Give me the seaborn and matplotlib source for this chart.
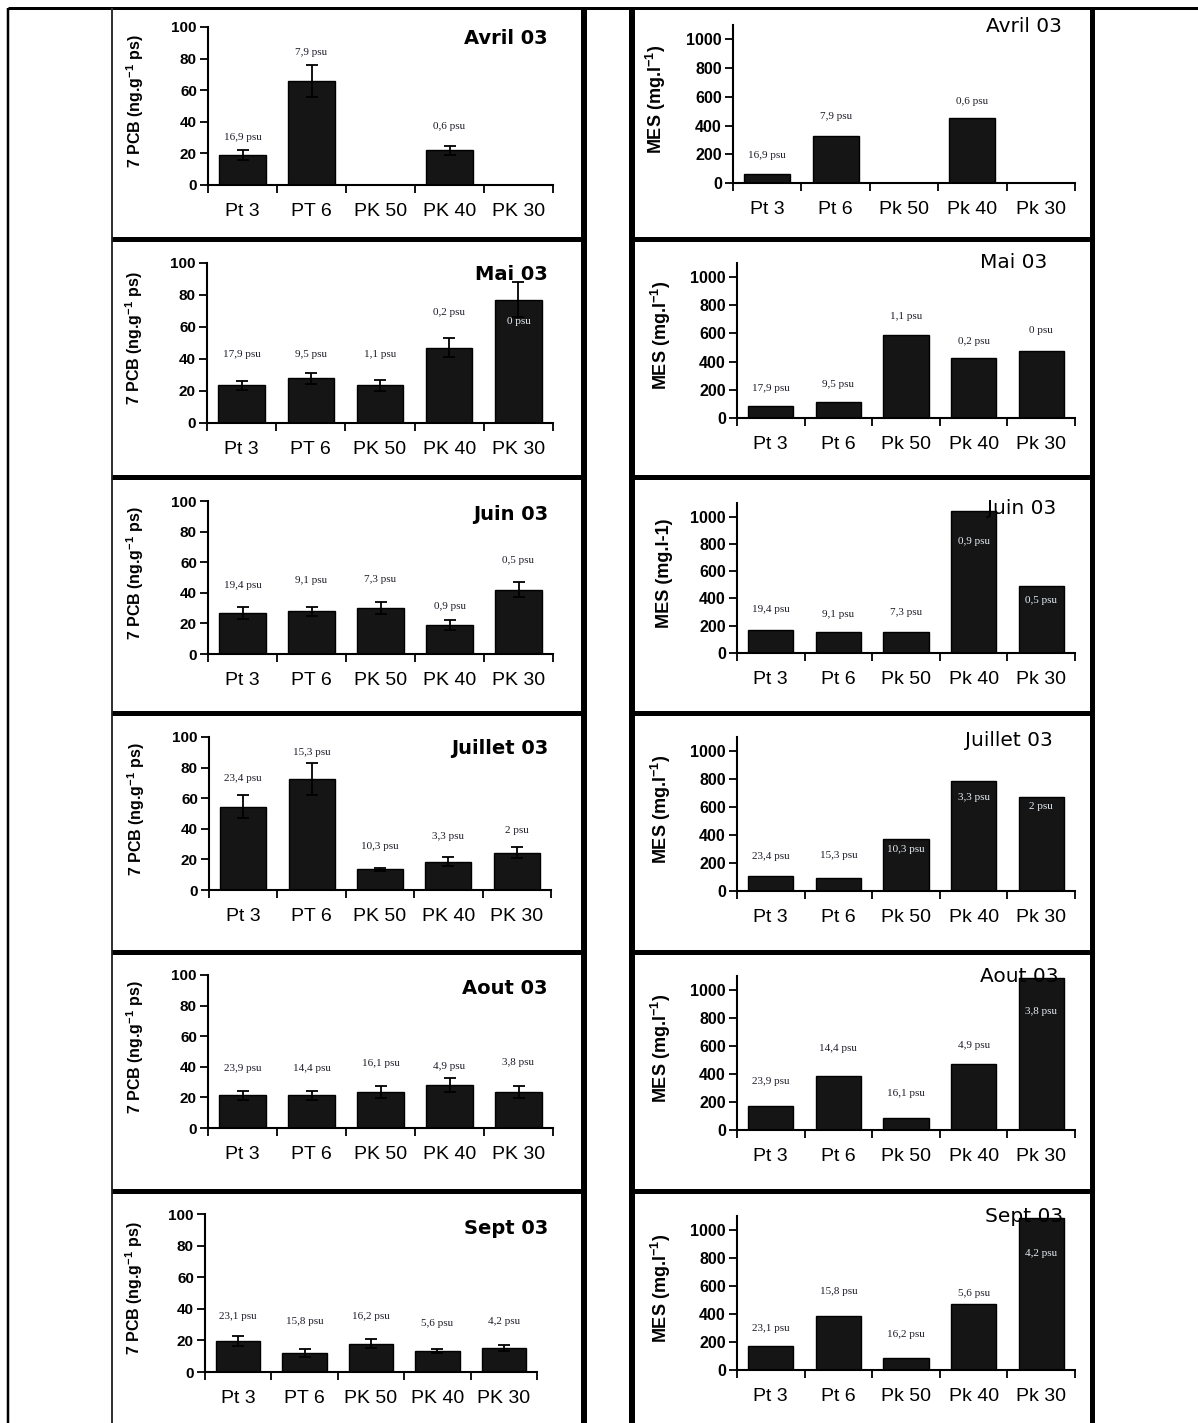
import numpy as np
import pandas as pd
import matplotlib
matplotlib.use("Agg")
import matplotlib.pyplot as plt
import seaborn as sns

sns.set_style("ticks")
plt.rcParams["font.family"] = ["Liberation Sans", "DejaVu Sans"]
plt.rcParams["mathtext.fontset"] = "custom"
plt.rcParams["mathtext.rm"] = "Liberation Sans:bold"
plt.rcParams["mathtext.default"] = "rm"
for key in ["text.color", "axes.labelcolor", "xtick.color", "ytick.color",
            "xtick.labelcolor", "ytick.labelcolor"]:
    plt.rcParams[key] = "black"

nan = np.nan

# ---- data -------------------------------------------------------------
months = ["Avril 03", "Mai 03", "Juin 03", "Juillet 03", "Aout 03", "Sept 03"]
sites_pcb = ["Pt 3", "PT 6", "PK 50", "PK 40", "PK 30"]
sites_mes = ["Pt 3", "Pt 6", "Pk 50", "Pk 40", "Pk 30"]

psu_avril = ["16,9 psu", "7,9 psu", "", "0,6 psu", ""]
psu_mai = ["17,9 psu", "9,5 psu", "1,1 psu", "0,2 psu", "0 psu"]
psu_juin = ["19,4 psu", "9,1 psu", "7,3 psu", "0,9 psu", "0,5 psu"]
psu_juillet = ["23,4 psu", "15,3 psu", "10,3 psu", "3,3 psu", "2 psu"]
psu_aout = ["23,9 psu", "14,4 psu", "16,1 psu", "4,9 psu", "3,8 psu"]
psu_sept = ["23,1 psu", "15,8 psu", "16,2 psu", "5,6 psu", "4,2 psu"]

# 7 PCB (ng/g dry weight), mean and error
pcb_avril = [19, 66, nan, 22, nan]
pcb_mai = [23.5, 28, 23.5, 47, 77]
pcb_juin = [27, 28, 30, 19, 42]
pcb_juillet = [54.5, 72.5, 13.5, 18.5, 24.5]
pcb_aout = [21.5, 21.5, 23.5, 28, 23.5]
pcb_sept = [19.5, 12, 18, 13.5, 15]

err_avril = [3, 10, nan, 3, nan]
err_mai = [3, 3.5, 3.5, 6, 11]
err_juin = [4, 3, 4, 3, 5]
err_juillet = [7.5, 10.5, 1.2, 3, 3.5]
err_aout = [3, 3, 4, 4.5, 4]
err_sept = [3, 2.5, 2.8, 1.2, 2]

# MES (mg/l)
mes_avril = [65, 326, nan, 456, nan]
mes_mai = [87, 117, 590, 429, 478]
mes_juin = [171, 157, 157, 1043, 494]
mes_juillet = [107, 93, 371, 786, 671]
mes_aout = [170, 386, 84, 472, 1084]
mes_sept = [170, 388, 84, 471, 1089]

# heights of the salinity labels, in data units of each panel
pcb_lab_avril = [30, 84, nan, 37, nan]
pcb_lab_mai = [43, 43, 43, 69, 63.5]
pcb_lab_juin = [45, 48, 49, 31, 61]
pcb_lab_juillet = [73, 90, 28.7, 34.8, 39]
pcb_lab_aout = [39, 39, 42, 40, 43]
pcb_lab_sept = [35, 32, 35, 31, 32]

mes_lab_avril = [193, 460, nan, 565, nan]
mes_lab_mai = [211, 241, 719, 543, 620]
mes_lab_juin = [318, 284, 296, 819, 386]
mes_lab_juillet = [243, 250, 293, 671, 607]
mes_lab_aout = [348, 583, 264, 600, 844]
mes_lab_sept = [299, 562, 251, 545, 833]

psu = [psu_avril, psu_mai, psu_juin, psu_juillet, psu_aout, psu_sept]
pcb = [pcb_avril, pcb_mai, pcb_juin, pcb_juillet, pcb_aout, pcb_sept]
pcb_err = [err_avril, err_mai, err_juin, err_juillet, err_aout, err_sept]
mes = [mes_avril, mes_mai, mes_juin, mes_juillet, mes_aout, mes_sept]
pcb_lab = [pcb_lab_avril, pcb_lab_mai, pcb_lab_juin, pcb_lab_juillet,
           pcb_lab_aout, pcb_lab_sept]
mes_lab = [mes_lab_avril, mes_lab_mai, mes_lab_juin, mes_lab_juillet,
           mes_lab_aout, mes_lab_sept]
mes_ylabels = ["MES (mg.l$^{-1}$)", "MES (mg.l$^{-1}$)", "MES (mg.l-1)",
               "MES (mg.l$^{-1}$)", "MES (mg.l$^{-1}$)", "MES (mg.l$^{-1}$)"]

# ---- layout (pixels) ----------------------------------------------------
W, H = 1198, 1423
fig = plt.figure(figsize=(W / 100, H / 100), dpi=100)
fig.patch.set_facecolor("white")

# (x_left, x_right, y_top_of_range, y_zero)
left_boxes = [(208, 553, 27, 185), (207, 553, 263, 423), (208, 553, 501, 654),
              (209, 551, 737, 890), (208, 553, 975, 1128), (205, 537, 1214, 1372)]
right_boxes = [(733, 1075, 25, 183), (737, 1075, 263, 418), (737, 1075, 503, 653),
               (737, 1075, 737, 891), (737, 1075, 976, 1130), (737, 1075, 1216, 1370)]
left_titles = [(548, 38), (548, 274), (548, 514), (548, 749), (548, 988), (548, 1228)]
right_titles = [(1062, 27), (1047, 263), (1056, 509), (1053, 741), (1058, 976), (1063, 1216)]


def rect(b):
    x0, x1, yt, yb = b
    return [x0 / W, 1 - yb / H, (x1 - x0) / W, (yb - yt) / H]


# table rules drawn on a full-figure background axes
bg = fig.add_axes([0, 0, 1, 1], zorder=-5)
bg.set_xlim(0, W)
bg.set_ylim(H, 0)
bg.axis("off")
px = 0.72
bg.hlines(8, 8, W, color="black", lw=3 * px)
bg.vlines(8, 8, H, color="black", lw=2.5 * px)
bg.vlines(112, 8, H, color="#333333", lw=2 * px)
bg.vlines(584, 8, H, color="black", lw=6 * px)
bg.vlines(632, 8, H, color="black", lw=6 * px)
bg.vlines(1092, 8, H, color="black", lw=5 * px)
for yy in [239, 477, 713, 952, 1191]:
    bg.hlines(yy, 112, 584, color="black", lw=5 * px)
    bg.hlines(yy, 632, 1092, color="black", lw=5 * px)

BAR = "#151515"
DARK_TXT = "#1c1c28"
LIGHT_TXT = "#e6eef6"


def draw_panel(ax, sites, values, errs, labels, lab_y, ymax, ticks,
               ylabel, ylab_size, ytick_size, ylab_x):
    df = pd.DataFrame({"site": sites, "val": values})
    sns.barplot(data=df, x="site", y="val", order=sites, ax=ax, color=BAR,
                saturation=1, width=0.67, edgecolor="black", linewidth=1,
                errorbar=None)
    if errs is not None:
        ax.errorbar(np.arange(len(sites)), values, yerr=errs, fmt="none",
                    ecolor="black", elinewidth=1.3, capsize=4, capthick=1.3,
                    zorder=5)
    for i, (t, ly, v) in enumerate(zip(labels, lab_y, values)):
        if not t:
            continue
        col = LIGHT_TXT if (not np.isnan(v) and ly < v) else DARK_TXT
        ax.text(i, ly, t, ha="center", va="center", fontsize=8,
                family="Liberation Serif", color=col, zorder=6)
    ax.set_xlim(-0.5, len(sites) - 0.5)
    ax.set_ylim(0, ymax)
    ax.set_yticks(ticks)
    ax.set_yticklabels([str(t) for t in ticks], fontsize=ytick_size,
                       fontweight="bold")
    # category boundaries carry the tick marks, labels sit under the bars
    ax.set_xticks(np.arange(-0.5, len(sites)), labels=[""] * (len(sites) + 1))
    ax.set_xticks(np.arange(len(sites)), labels=sites, minor=True)
    ax.tick_params(axis="x", which="major", direction="out", length=6,
                   width=1.3, color="black")
    ax.tick_params(axis="x", which="minor", length=0, pad=13,
                   labelsize=14)
    ax.tick_params(axis="y", direction="out", length=6, width=1.3, pad=2)
    ax.set_xlabel("")
    ax.set_ylabel(ylabel, fontsize=ylab_size, fontweight="bold")
    ax.yaxis.set_label_coords(ylab_x, 0.53)
    for s in ["top", "right"]:
        ax.spines[s].set_visible(False)
    for s in ["left", "bottom"]:
        ax.spines[s].set_linewidth(1.5)
        ax.spines[s].set_color("black")
    ax.set_facecolor("none")


for m in range(6):
    axl = fig.add_axes(rect(left_boxes[m]))
    draw_panel(axl, sites_pcb, pcb[m], pcb_err[m], psu[m], pcb_lab[m],
               100, [0, 20, 40, 60, 80, 100],
               "7 PCB (ng.g$^{-1}$ ps)", 11.5, 11, -0.18)
    axr = fig.add_axes(rect(right_boxes[m]))
    draw_panel(axr, sites_mes, mes[m], None, psu[m], mes_lab[m],
               1100, [0, 200, 400, 600, 800, 1000],
               mes_ylabels[m], 13, 11.5, -0.19)
    tx, ty = left_titles[m]
    fig.text(tx / W, 1 - ty / H, months[m], ha="right", va="center",
             fontsize=14, fontweight="bold", family="DejaVu Sans")
    tx, ty = right_titles[m]
    fig.text(tx / W, 1 - ty / H, months[m], ha="right", va="center",
             fontsize=14.5, family="DejaVu Sans", zorder=10)

fig.savefig("out.png", dpi=100, facecolor="white")
